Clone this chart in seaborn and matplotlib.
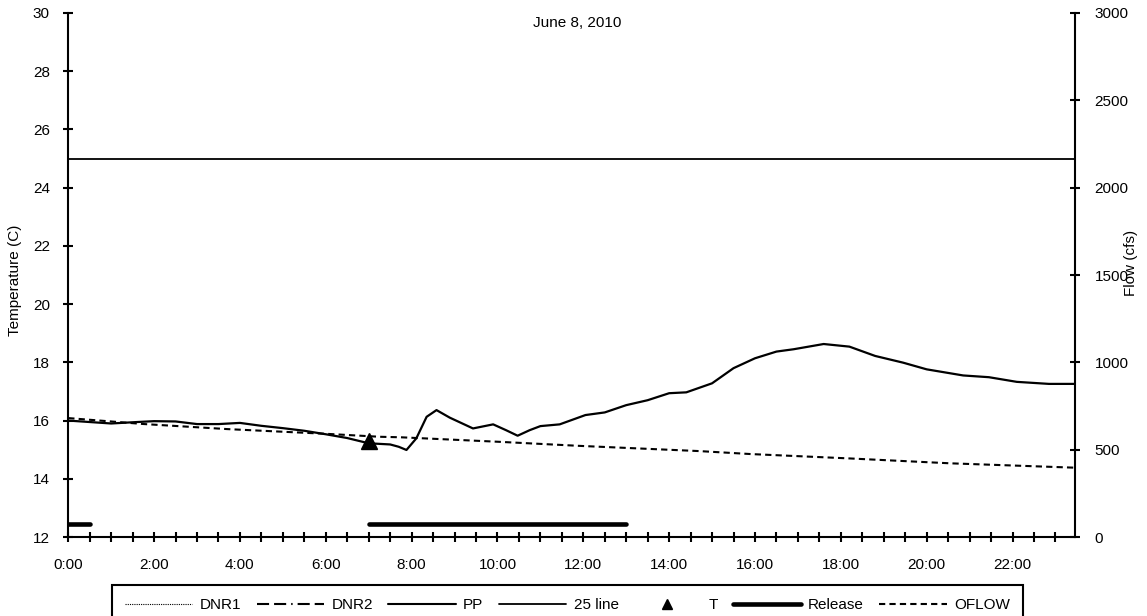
import matplotlib
matplotlib.use('Agg')
import matplotlib.pyplot as plt
import seaborn as sns
from matplotlib.lines import Line2D
from matplotlib.ticker import FixedLocator, MultipleLocator

# temperatura PP (C) por hora del dia
pp_hours = [0, 0.5, 1.0, 1.6, 2.0, 2.5, 3.0, 3.5, 4.0, 4.5, 5.0, 5.5, 6.0, 6.5,
            7.0, 7.5, 7.7, 7.88, 8.11, 8.35, 8.58, 8.89, 9.43, 9.9, 10.2, 10.47,
            10.75, 11.0, 11.45, 12.05, 12.5, 13.0, 13.5, 14.0, 14.4, 15.0, 15.5,
            16.0, 16.5, 16.9, 17.6, 18.2, 18.8, 19.45, 20.0, 20.85, 21.45, 22.1,
            22.85, 23.45]
pp_temp = [16.0, 15.95, 15.9, 15.95, 15.98, 15.97, 15.88, 15.88, 15.92, 15.82,
           15.74, 15.65, 15.53, 15.4, 15.22, 15.18, 15.1, 14.99, 15.39, 16.13,
           16.36, 16.1, 15.73, 15.87, 15.67, 15.48, 15.67, 15.81, 15.87, 16.19,
           16.28, 16.53, 16.7, 16.94, 16.97, 17.28, 17.8, 18.14, 18.37, 18.45,
           18.63, 18.54, 18.22, 17.99, 17.76, 17.55, 17.49, 17.33, 17.26, 17.26]

# caudal OFLOW (cfs)
oflow_hours = [0, 1.75, 3.7, 6.0, 7.25, 7.75, 10.05, 11.9, 14.7, 15.9, 18.2, 20.55, 23.45]
oflow_cfs = [681, 647, 618, 591, 574, 571, 545, 522, 492, 475, 450, 422, 397]

t_hour = [7.0]
t_temp = [15.3]

release_start = [0, 7]
release_end = [0.5, 13]
release_level = 12.45

line_25 = 25

hour_ticks = [0, 2, 4, 6, 8, 10, 12, 14, 16, 18, 20, 22]
hour_labels = ['0:00', '2:00', '4:00', '6:00', '8:00', '10:00', '12:00',
               '14:00', '16:00', '18:00', '20:00', '22:00']
temp_ticks = [12, 14, 16, 18, 20, 22, 24, 26, 28, 30]
flow_ticks = [0, 500, 1000, 1500, 2000, 2500, 3000]

sns.set_style('white')
plt.rcParams['font.family'] = ['Liberation Sans', 'DejaVu Sans']
plt.rcParams['font.size'] = 11
plt.rcParams['text.color'] = 'black'
plt.rcParams['axes.labelcolor'] = 'black'
plt.rcParams['xtick.color'] = 'black'
plt.rcParams['ytick.color'] = 'black'

fig = plt.figure(figsize=(11.47, 6.16), dpi=100)
ax = fig.add_axes([0.0595, 0.1282, 0.937 - 0.0595, 0.9789 - 0.1282])
ax2 = ax.twinx()

sns.lineplot(x=pp_hours, y=pp_temp, ax=ax, color='black', lw=1.6)
ax.lines[-1].set_solid_joinstyle('round')
ax.axhline(line_25, color='black', lw=1.3)
ax.plot(t_hour, t_temp, marker='^', ms=11, color='black', ls='none')
ax.hlines([release_level] * len(release_start), release_start, release_end,
          color='black', lw=3.3, capstyle='round')
sns.lineplot(x=oflow_hours, y=oflow_cfs, ax=ax2, color='black', lw=1.5)
ax2.lines[-1].set_dashes((3, 2))

ax.set_xlim(0, 23.45)
ax.set_ylim(12, 30)
ax2.set_ylim(0, 3000)

ax.xaxis.set_major_locator(FixedLocator(hour_ticks))
ax.set_xticklabels(hour_labels)
ax.xaxis.set_minor_locator(MultipleLocator(0.5))
ax.set_yticks(temp_ticks)
ax2.set_yticks(flow_ticks)

for a in (ax, ax2):
    for s in a.spines.values():
        s.set_color('black')
        s.set_linewidth(1.5)
    a.spines['top'].set_visible(False)
ax.spines['right'].set_visible(False)
ax2.spines['left'].set_visible(False)
ax2.spines['bottom'].set_visible(False)

ax.tick_params(axis='x', which='both', direction='inout', length=6.5, width=1.5, pad=12,
               bottom=True)
ax.tick_params(axis='y', direction='inout', length=6.5, width=1.5, pad=10, left=True)
ax2.tick_params(axis='y', direction='inout', length=6.5, width=1.5, pad=11, right=True)

ax.set_ylabel('Temperature (C)')
ax.yaxis.set_label_coords(-0.046, 0.49)
ax2.set_ylabel('Flow (cfs)', rotation=90)
ax2.yaxis.set_label_coords(1.049, 0.523)

ax.text(0.5055, 0.981, 'June 8, 2010', transform=ax.transAxes,
        ha='center', va='center')

handles = [
    Line2D([], [], color='black', lw=0.8, ls=(0, (1, 1))),
    Line2D([], [], color='black', lw=1.5, dashes=(5.8, 2.4, 5.8, 2.4, 0.7, 2.4)),
    Line2D([], [], color='black', lw=1.5),
    Line2D([], [], color='black', lw=1.3),
    Line2D([], [], color='black', marker='^', ms=7, ls='none'),
    Line2D([], [], color='black', lw=3.3, solid_capstyle='round'),
    Line2D([], [], color='black', lw=1.5, dashes=(3, 2)),
]
labels = ['DNR1', 'DNR2', 'PP', '25 line', 'T', 'Release', 'OFLOW']
leg = fig.legend(handles, labels, loc='center', bbox_to_anchor=(0.4948, 0.018),
                 ncol=7, handlelength=4.4, handletextpad=0.5, columnspacing=1.0,
                 borderpad=0.85, fancybox=False, frameon=True, edgecolor='black',
                 framealpha=1)
leg.get_frame().set_linewidth(1.5)

fig.savefig('out.png', dpi=100)
